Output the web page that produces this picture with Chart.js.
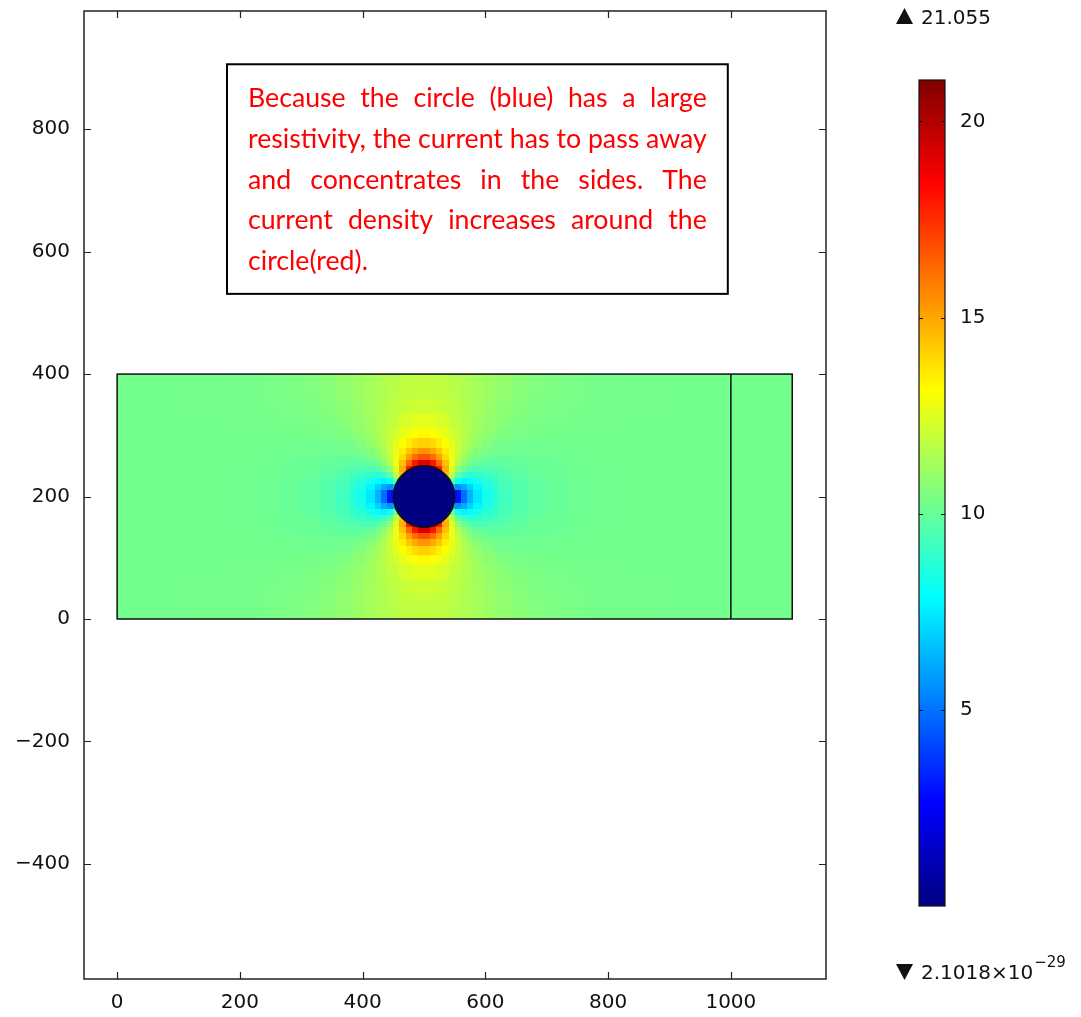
<!DOCTYPE html>
<html>
<head>
<meta charset="utf-8">
<script src="https://cdn.jsdelivr.net/npm/chart.js@4.4.1/dist/chart.umd.min.js"></script>
<style>
  body { margin: 0; background: #fff; }
  #wrap { position: relative; width: 1081px; height: 1017px; }
  #plot { position: absolute; left: 0; top: 0; }
  #cbar { position: absolute; left: 880px; top: 0; }
</style>
</head>
<body>
<div id="wrap">
  <canvas id="plot" width="1081" height="1017"></canvas>
  <canvas id="cbar" width="201" height="1017"></canvas>
</div>
<script>
// sampled current density, coarse cells over the whole strip (model units)
const xEdges = [0, 100, 180, 230, 265, 300, 330, 355, 380, 400, 420, 440, 460, 480, 500,
                520, 540, 560, 580, 600, 620, 645, 670, 700, 735, 770, 820, 900, 1000, 1100];
const yEdges = [0, 20, 40, 65, 90, 110, 135, 155, 170, 185, 200,
                215, 230, 245, 265, 290, 310, 335, 360, 380, 400];

// one row per y band, bottom to top; null = covered by the fine patch
const _ = null;
const fieldRows = [
  [10.27, 10.28, 10.32, 10.38, 10.45, 10.57, 10.71, 10.88, 11.07, 11.26, 11.45, 11.63, 11.77, 11.84, 11.84, 11.77, 11.63, 11.45, 11.26, 11.07, 10.88, 10.71, 10.57, 10.45, 10.38, 10.32, 10.28, 10.27, 10.26],
  [10.27, 10.28, 10.31, 10.37, 10.44, 10.55, 10.69, 10.86, 11.05, 11.25, 11.47, 11.67, 11.83, 11.92, 11.92, 11.83, 11.67, 11.47, 11.25, 11.05, 10.86, 10.69, 10.55, 10.44, 10.37, 10.31, 10.28, 10.27, 10.26],
  [10.27, 10.28, 10.30, 10.34, 10.40, 10.50, 10.63, 10.80, 11.00, 11.23, 11.50, 11.77, 12.00, 12.13, 12.13, 12.00, 11.77, 11.50, 11.23, 11.00, 10.80, 10.63, 10.50, 10.40, 10.34, 10.30, 10.28, 10.27, 10.26],
  [10.26, 10.27, 10.28, 10.30, 10.34, 10.41, 10.51, 10.67, 10.89, 11.17, 11.53, 11.95, 12.34, 12.58, 12.58, 12.34, 11.95, 11.53, 11.17, 10.89, 10.67, 10.51, 10.41, 10.34, 10.30, 10.28, 10.27, 10.26, 10.26],
  [10.26, 10.26, 10.26, 10.26, 10.28, 10.30, 10.36, 10.48, 10.68, _, _, _, _, _, _, _, _, _, _, 10.68, 10.48, 10.36, 10.30, 10.28, 10.26, 10.26, 10.26, 10.26, 10.26],
  [10.26, 10.25, 10.24, 10.22, 10.20, 10.18, 10.17, 10.20, 10.33, _, _, _, _, _, _, _, _, _, _, 10.33, 10.20, 10.17, 10.18, 10.20, 10.22, 10.24, 10.25, 10.26, 10.26],
  [10.26, 10.25, 10.22, 10.18, 10.13, 10.05, 9.95, 9.85, 9.79, _, _, _, _, _, _, _, _, _, _, 9.79, 9.85, 9.95, 10.05, 10.13, 10.18, 10.22, 10.25, 10.26, 10.26],
  [10.25, 10.24, 10.21, 10.16, 10.08, 9.96, 9.79, 9.56, 9.29, _, _, _, _, _, _, _, _, _, _, 9.29, 9.56, 9.79, 9.96, 10.08, 10.16, 10.21, 10.24, 10.25, 10.26],
  [10.25, 10.24, 10.20, 10.15, 10.05, 9.91, 9.69, 9.36, 8.88, _, _, _, _, _, _, _, _, _, _, 8.88, 9.36, 9.69, 9.91, 10.05, 10.15, 10.20, 10.24, 10.25, 10.26],
  [10.25, 10.24, 10.20, 10.14, 10.04, 9.88, 9.63, 9.24, 8.63, _, _, _, _, _, _, _, _, _, _, 8.63, 9.24, 9.63, 9.88, 10.04, 10.14, 10.20, 10.24, 10.25, 10.26],
  [10.25, 10.24, 10.20, 10.14, 10.04, 9.88, 9.63, 9.24, 8.63, _, _, _, _, _, _, _, _, _, _, 8.63, 9.24, 9.63, 9.88, 10.04, 10.14, 10.20, 10.24, 10.25, 10.26],
  [10.25, 10.24, 10.20, 10.15, 10.05, 9.91, 9.69, 9.36, 8.88, _, _, _, _, _, _, _, _, _, _, 8.88, 9.36, 9.69, 9.91, 10.05, 10.15, 10.20, 10.24, 10.25, 10.26],
  [10.25, 10.24, 10.21, 10.16, 10.08, 9.96, 9.79, 9.56, 9.29, _, _, _, _, _, _, _, _, _, _, 9.29, 9.56, 9.79, 9.96, 10.08, 10.16, 10.21, 10.24, 10.25, 10.26],
  [10.26, 10.25, 10.22, 10.18, 10.13, 10.05, 9.95, 9.85, 9.79, _, _, _, _, _, _, _, _, _, _, 9.79, 9.85, 9.95, 10.05, 10.13, 10.18, 10.22, 10.25, 10.26, 10.26],
  [10.26, 10.25, 10.24, 10.22, 10.20, 10.18, 10.17, 10.20, 10.33, _, _, _, _, _, _, _, _, _, _, 10.33, 10.20, 10.17, 10.18, 10.20, 10.22, 10.24, 10.25, 10.26, 10.26],
  [10.26, 10.26, 10.26, 10.26, 10.28, 10.30, 10.36, 10.48, 10.68, _, _, _, _, _, _, _, _, _, _, 10.68, 10.48, 10.36, 10.30, 10.28, 10.26, 10.26, 10.26, 10.26, 10.26],
  [10.26, 10.27, 10.28, 10.30, 10.34, 10.41, 10.51, 10.67, 10.89, 11.17, 11.53, 11.95, 12.34, 12.58, 12.58, 12.34, 11.95, 11.53, 11.17, 10.89, 10.67, 10.51, 10.41, 10.34, 10.30, 10.28, 10.27, 10.26, 10.26],
  [10.27, 10.28, 10.30, 10.34, 10.40, 10.50, 10.63, 10.80, 11.00, 11.23, 11.50, 11.77, 12.00, 12.13, 12.13, 12.00, 11.77, 11.50, 11.23, 11.00, 10.80, 10.63, 10.50, 10.40, 10.34, 10.30, 10.28, 10.27, 10.26],
  [10.27, 10.28, 10.31, 10.37, 10.44, 10.55, 10.69, 10.86, 11.05, 11.25, 11.47, 11.67, 11.83, 11.92, 11.92, 11.83, 11.67, 11.47, 11.25, 11.05, 10.86, 10.69, 10.55, 10.44, 10.37, 10.31, 10.28, 10.27, 10.26],
  [10.27, 10.28, 10.32, 10.38, 10.45, 10.57, 10.71, 10.88, 11.07, 11.26, 11.45, 11.63, 11.77, 11.84, 11.84, 11.77, 11.63, 11.45, 11.26, 11.07, 10.88, 10.71, 10.57, 10.45, 10.38, 10.32, 10.28, 10.27, 10.26]
];

// finer cells around the circle, drawn over the coarse ones
const patchXEdges = [390, 405, 420, 430, 440, 450, 460, 470, 480, 490, 500,
                     510, 520, 530, 540, 550, 560, 570, 580, 595, 610];
const patchYEdges = [90, 105, 120, 130, 140, 150, 160, 170, 180, 190, 200,
                     210, 220, 230, 240, 250, 260, 270, 280, 295, 310];
const patchRows = [
  [10.84, 11.10, 11.39, 11.67, 11.98, 12.31, 12.64, 12.94, 13.16, 13.28, 13.28, 13.16, 12.94, 12.64, 12.31, 11.98, 11.67, 11.39, 11.10, 10.84],
  [10.62, 10.90, 11.25, 11.61, 12.04, 12.54, 13.07, 13.56, 13.95, 14.16, 14.16, 13.95, 13.56, 13.07, 12.54, 12.04, 11.61, 11.25, 10.90, 10.62],
  [10.37, 10.64, 11.01, 11.45, 12.02, 12.73, 13.52, 14.31, 14.96, 15.33, 15.33, 14.96, 14.31, 13.52, 12.73, 12.02, 11.45, 11.01, 10.64, 10.37],
  [10.11, 10.34, 10.71, 11.19, 11.89, 12.82, 13.95, 15.15, 16.19, 16.80, 16.80, 16.19, 15.15, 13.95, 12.82, 11.89, 11.19, 10.71, 10.34, 10.11],
  [9.81, 9.94, 10.26, 10.76, 11.58, 12.79, 14.42, 16.30, 18.05, 19.14, 19.14, 18.05, 16.30, 14.42, 12.79, 11.58, 10.76, 10.26, 9.94, 9.81],
  [9.46, 9.45, 9.64, 10.07, 10.95, 12.50, 14.85, 17.90, 19.27, 20.16, 20.16, 19.27, 17.90, 14.85, 12.50, 10.95, 10.07, 9.64, 9.45, 9.46],
  [9.09, 8.87, 8.82, 9.06, 9.86, 11.68, 14.34, 0, 0, 0, 0, 0, 0, 14.34, 11.68, 9.86, 9.06, 8.82, 8.87, 9.09],
  [8.74, 8.27, 7.86, 7.69, 8.10, 9.97, 0, 0, 0, 0, 0, 0, 0, 0, 9.97, 8.10, 7.69, 7.86, 8.27, 8.74],
  [8.46, 7.74, 6.91, 6.12, 5.63, 6.50, 0, 0, 0, 0, 0, 0, 0, 0, 6.50, 5.63, 6.12, 6.91, 7.74, 8.46],
  [8.30, 7.43, 6.28, 4.88, 2.92, 2.56, 0, 0, 0, 0, 0, 0, 0, 0, 2.56, 2.92, 4.88, 6.28, 7.43, 8.30],
  [8.30, 7.43, 6.28, 4.88, 2.92, 2.56, 0, 0, 0, 0, 0, 0, 0, 0, 2.56, 2.92, 4.88, 6.28, 7.43, 8.30],
  [8.46, 7.74, 6.91, 6.12, 5.63, 6.50, 0, 0, 0, 0, 0, 0, 0, 0, 6.50, 5.63, 6.12, 6.91, 7.74, 8.46],
  [8.74, 8.27, 7.86, 7.69, 8.10, 9.97, 0, 0, 0, 0, 0, 0, 0, 0, 9.97, 8.10, 7.69, 7.86, 8.27, 8.74],
  [9.09, 8.87, 8.82, 9.06, 9.86, 11.68, 14.34, 0, 0, 0, 0, 0, 0, 14.34, 11.68, 9.86, 9.06, 8.82, 8.87, 9.09],
  [9.46, 9.45, 9.64, 10.07, 10.95, 12.50, 14.85, 17.90, 19.27, 20.16, 20.16, 19.27, 17.90, 14.85, 12.50, 10.95, 10.07, 9.64, 9.45, 9.46],
  [9.81, 9.94, 10.26, 10.76, 11.58, 12.79, 14.42, 16.30, 18.05, 19.14, 19.14, 18.05, 16.30, 14.42, 12.79, 11.58, 10.76, 10.26, 9.94, 9.81],
  [10.11, 10.34, 10.71, 11.19, 11.89, 12.82, 13.95, 15.15, 16.19, 16.80, 16.80, 16.19, 15.15, 13.95, 12.82, 11.89, 11.19, 10.71, 10.34, 10.11],
  [10.37, 10.64, 11.01, 11.45, 12.02, 12.73, 13.52, 14.31, 14.96, 15.33, 15.33, 14.96, 14.31, 13.52, 12.73, 12.02, 11.45, 11.01, 10.64, 10.37],
  [10.62, 10.90, 11.25, 11.61, 12.04, 12.54, 13.07, 13.56, 13.95, 14.16, 14.16, 13.95, 13.56, 13.07, 12.54, 12.04, 11.61, 11.25, 10.90, 10.62],
  [10.84, 11.10, 11.39, 11.67, 11.98, 12.31, 12.64, 12.94, 13.16, 13.28, 13.28, 13.16, 12.94, 12.64, 12.31, 11.98, 11.67, 11.39, 11.10, 10.84]
];

// geometry
const domainX = [0, 1000, 1100];
const domainY = [0, 400];
const circle = { x: 500, y: 200, r: 50, value: 0 };

// axes
const xRange = [-54, 1155];
const yRange = [-588, 993];
const xTicks = [0, 200, 400, 600, 800, 1000];
const yTicks = [-400, -200, 0, 200, 400, 600, 800];

// colour range
const colorMin = 2.1018e-29;
const colorMax = 21.055;
const colorTicks = [5, 10, 15, 20];

const noteLines = [
  'Because the circle (blue) has a large',
  'resistivity, the current has to pass away',
  'and concentrates in the sides. The',
  'current density increases around the',
  'circle(red).'
];
const noteBox = { x0: 179, x1: 995, y0: 531, y1: 906 };

Chart.defaults.font.family = 'DejaVu Sans';
Chart.defaults.color = '#111';

function jet(t) {
  const c = v => Math.round(255 * Math.max(0, Math.min(1, v)));
  return 'rgb(' + c(1.5 - Math.abs(4 * t - 3)) + ',' + c(1.5 - Math.abs(4 * t - 2)) + ',' + c(1.5 - Math.abs(4 * t - 1)) + ')';
}

function fmtTick(v) {
  return v < 0 ? '\u2212' + Math.abs(v) : String(v);
}

function drawCells(ctx, x, y, xe, ye, rows) {
  for (let j = 0; j < rows.length; j++) {
    const top = Math.round(y.getPixelForValue(ye[j + 1]));
    const bot = Math.round(y.getPixelForValue(ye[j]));
    rows[j].forEach((v, i) => {
      if (v === null) return;
      const l = Math.round(x.getPixelForValue(xe[i]));
      const r = Math.round(x.getPixelForValue(xe[i + 1]));
      ctx.fillStyle = jet(v / colorMax);
      ctx.fillRect(l, top, r - l, bot - top);
    });
  }
}

const fieldPlugin = {
  id: 'field',
  beforeDatasetsDraw(chart) {
    const { ctx, scales: { x, y } } = chart;
    ctx.save();
    drawCells(ctx, x, y, xEdges, yEdges, fieldRows);
    drawCells(ctx, x, y, patchXEdges, patchYEdges, patchRows);
    // resistive circle
    const cx = x.getPixelForValue(circle.x), cy = y.getPixelForValue(circle.y);
    const rr = x.getPixelForValue(circle.x + circle.r) - cx;
    ctx.beginPath();
    ctx.arc(cx, cy, rr, 0, Math.PI * 2);
    ctx.fillStyle = jet(circle.value / colorMax);
    ctx.fill();
    ctx.lineWidth = 1.5;
    ctx.strokeStyle = '#111';
    ctx.stroke();
    // domain outline
    const l = x.getPixelForValue(domainX[0]), r = x.getPixelForValue(domainX[2]);
    const t = y.getPixelForValue(domainY[1]), b = y.getPixelForValue(domainY[0]);
    ctx.strokeStyle = '#111';
    ctx.lineWidth = 1.5;
    ctx.strokeRect(l, t, r - l, b - t);
    const m = x.getPixelForValue(domainX[1]);
    ctx.beginPath();
    ctx.moveTo(m, t);
    ctx.lineTo(m, b);
    ctx.stroke();
    ctx.restore();
  },
  afterDraw(chart) {
    const { ctx, chartArea: a, scales: { x, y } } = chart;
    ctx.save();
    // frame with inward ticks on all sides
    ctx.strokeStyle = '#222';
    ctx.lineWidth = 1.5;
    ctx.strokeRect(a.left, a.top, a.right - a.left, a.bottom - a.top);
    ctx.lineWidth = 1.2;
    ctx.beginPath();
    xTicks.forEach(v => {
      const px = Math.round(x.getPixelForValue(v)) + 0.5;
      ctx.moveTo(px, a.bottom); ctx.lineTo(px, a.bottom - 7);
      ctx.moveTo(px, a.top); ctx.lineTo(px, a.top + 7);
    });
    yTicks.forEach(v => {
      const py = Math.round(y.getPixelForValue(v)) + 0.5;
      ctx.moveTo(a.left, py); ctx.lineTo(a.left + 7, py);
      ctx.moveTo(a.right, py); ctx.lineTo(a.right - 7, py);
    });
    ctx.stroke();

    // note box
    const bl = x.getPixelForValue(noteBox.x0), br = x.getPixelForValue(noteBox.x1);
    const bt = y.getPixelForValue(noteBox.y1), bb = y.getPixelForValue(noteBox.y0);
    ctx.fillStyle = '#fff';
    ctx.fillRect(bl, bt, br - bl, bb - bt);
    ctx.strokeStyle = '#000';
    ctx.lineWidth = 2;
    ctx.strokeRect(bl, bt, br - bl, bb - bt);
    const pad = 21;
    const width = br - bl - 2 * pad;
    ctx.font = '22px Lato';
    const size = 22 * width / ctx.measureText(noteLines[1]).width;
    ctx.font = size.toFixed(2) + 'px Lato';
    ctx.fillStyle = '#ff0000';
    ctx.textBaseline = 'alphabetic';
    noteLines.forEach((line, k) => {
      const by = bt + 43 + k * 40.7;
      const words = line.split(' ');
      if (k === noteLines.length - 1) {
        ctx.fillText(line, bl + pad, by);
        return;
      }
      const wsum = words.reduce((s, w) => s + ctx.measureText(w).width, 0);
      const gap = (width - wsum) / (words.length - 1);
      let cx = bl + pad;
      words.forEach(w => {
        ctx.fillText(w, cx, by);
        cx += ctx.measureText(w).width + gap;
      });
    });
    ctx.restore();
  }
};

new Chart(document.getElementById('plot'), {
  type: 'scatter',
  data: { datasets: [] },
  options: {
    responsive: false,
    animation: false,
    layout: { padding: { top: 11, right: 255, left: 0, bottom: 0 } },
    plugins: { legend: { display: false }, tooltip: { enabled: false } },
    scales: {
      x: {
        type: 'linear', min: xRange[0], max: xRange[1],
        afterBuildTicks: s => { s.ticks = xTicks.map(v => ({ value: v })); },
        afterFit: s => { s.height = 38; s.paddingLeft = 0; s.paddingRight = 0; },
        grid: { display: false, drawTicks: false },
        border: { display: false },
        ticks: { padding: 12, font: { size: 20 }, callback: fmtTick, maxRotation: 0 }
      },
      y: {
        type: 'linear', min: yRange[0], max: yRange[1],
        afterBuildTicks: s => { s.ticks = yTicks.map(v => ({ value: v })); },
        afterFit: s => { s.width = 84; s.paddingTop = 0; s.paddingBottom = 0; },
        grid: { display: false, drawTicks: false },
        border: { display: false },
        ticks: { padding: 14, font: { size: 20 }, callback: fmtTick }
      }
    }
  },
  plugins: [fieldPlugin]
});

const colorbarPlugin = {
  id: 'colorbar',
  afterDatasetsDraw(chart) {
    const { ctx, chartArea: a, scales: { y } } = chart;
    ctx.save();
    ctx.strokeStyle = '#111';
    ctx.lineWidth = 1.2;
    ctx.strokeRect(a.left, a.top, a.right - a.left, a.bottom - a.top);
    ctx.beginPath();
    colorTicks.forEach(v => {
      const py = Math.round(y.getPixelForValue(v)) + 0.5;
      ctx.moveTo(a.left, py); ctx.lineTo(a.left + 4, py);
      ctx.moveTo(a.right, py); ctx.lineTo(a.right - 4, py);
    });
    ctx.stroke();
    // max / min markers
    ctx.fillStyle = '#111';
    ctx.beginPath();
    ctx.moveTo(16, 24); ctx.lineTo(33, 24); ctx.lineTo(24.5, 8); ctx.closePath();
    ctx.moveTo(16, 964); ctx.lineTo(33, 964); ctx.lineTo(24.5, 980); ctx.closePath();
    ctx.fill();
    ctx.font = '20px DejaVu Sans';
    ctx.textBaseline = 'alphabetic';
    ctx.fillText(colorMax.toFixed(3), 41, 24);
    const base = '2.1018\u00d710';
    ctx.fillText(base, 41, 979);
    const w = ctx.measureText(base).width;
    ctx.font = '15px DejaVu Sans';
    ctx.fillText('\u221229', 41 + w + 1, 967);
    ctx.restore();
  }
};

new Chart(document.getElementById('cbar'), {
  type: 'bar',
  data: {
    labels: [''],
    datasets: [{
      data: [[colorMin, colorMax]],
      barPercentage: 1,
      categoryPercentage: 1,
      borderWidth: 0,
      backgroundColor: c => {
        const { chart } = c;
        if (!chart.chartArea) return 'transparent';
        const y = chart.scales.y;
        const g = chart.ctx.createLinearGradient(0, y.getPixelForValue(colorMin), 0, y.getPixelForValue(colorMax));
        g.addColorStop(0, 'rgb(0,0,128)');
        g.addColorStop(0.125, 'rgb(0,0,255)');
        g.addColorStop(0.375, 'rgb(0,255,255)');
        g.addColorStop(0.625, 'rgb(255,255,0)');
        g.addColorStop(0.875, 'rgb(255,0,0)');
        g.addColorStop(1, 'rgb(128,0,0)');
        return g;
      }
    }]
  },
  options: {
    responsive: false,
    animation: false,
    layout: { padding: { left: 39, top: 80, bottom: 111, right: 0 } },
    plugins: { legend: { display: false }, tooltip: { enabled: false } },
    scales: {
      x: { display: false },
      y: {
        position: 'right', min: colorMin, max: colorMax,
        afterBuildTicks: s => { s.ticks = colorTicks.map(v => ({ value: v })); },
        afterFit: s => { s.width = 136; s.paddingTop = 0; s.paddingBottom = 0; },
        grid: { display: false, drawTicks: false },
        border: { display: false },
        ticks: { padding: 15, font: { size: 20 } }
      }
    }
  },
  plugins: [colorbarPlugin]
});
</script>
</body>
</html>
